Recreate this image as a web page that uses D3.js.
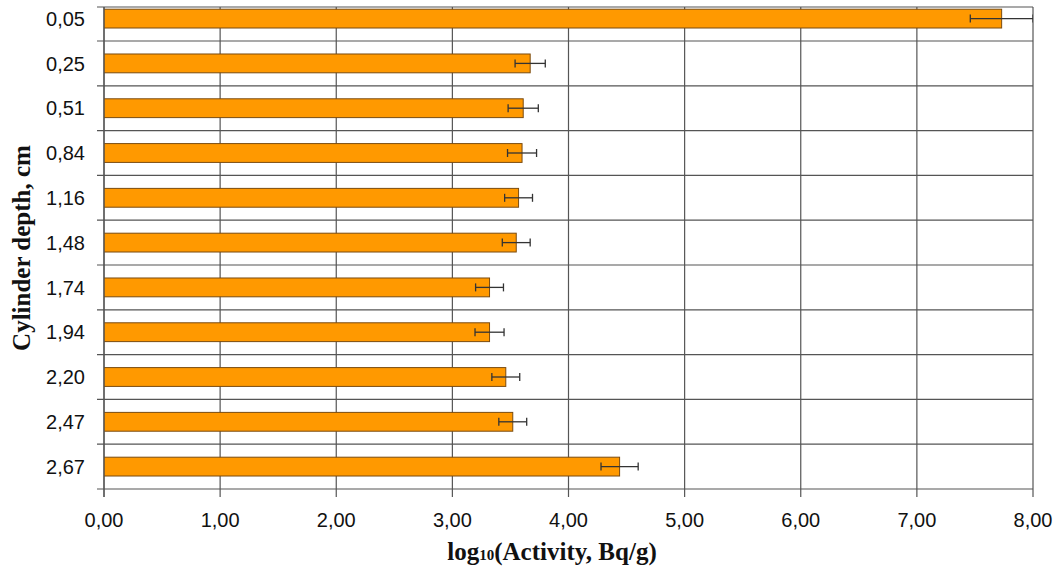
<!DOCTYPE html>
<html>
<head>
<meta charset="utf-8">
<script src="https://cdn.jsdelivr.net/npm/d3@7"></script>
<style>
  html, body { margin: 0; padding: 0; background: #fff; }
  svg { display: block; }
</style>
</head>
<body>
<svg id="chart" width="1061" height="570"></svg>
<script>
// Cylinder depth (cm), top to bottom
const depths = ["0,05", "0,25", "0,51", "0,84", "1,16", "1,48", "1,74", "1,94", "2,20", "2,47", "2,67"];
// log10 of activity (Bq/g) per depth
const logActivity = [7.73, 3.67, 3.61, 3.60, 3.57, 3.55, 3.32, 3.32, 3.46, 3.52, 4.44];
// symmetric uncertainty on log10 activity
const logError = [0.27, 0.13, 0.13, 0.125, 0.12, 0.12, 0.12, 0.125, 0.12, 0.12, 0.16];
// x axis ticks
const xTicks = [0, 1, 2, 3, 4, 5, 6, 7, 8];

(function () {
const svg = d3.select("#chart");
const plotLeft = 104, plotRight = 1033, plotTop = 7, plotBottom = 489;
const step = 44.8;

const x = d3.scaleLinear().domain([0, 8]).range([plotLeft, plotRight]);
const y = d3.scaleBand()
  .domain(depths)
  .range([plotBottom - step * depths.length, plotBottom])
  .paddingInner(0.58).paddingOuter(0.29);

const fmt = v => d3.format(".2f")(v).replace(".", ",");
const gridColor = "#555";

// vertical gridlines and x ticks
svg.append("g").selectAll("line").data(xTicks).join("line")
  .attr("x1", d => x(d)).attr("x2", d => x(d))
  .attr("y1", plotTop).attr("y2", plotBottom + 8)
  .attr("stroke", gridColor).attr("stroke-width", 1.2);

// horizontal lines at category boundaries, top border and baseline
const bounds = depths.slice(1).map(d => y(d) - y.step() * y.paddingInner() / 2);
bounds.push(plotBottom);
bounds.unshift(plotTop);
svg.append("g").selectAll("line").data(bounds).join("line")
  .attr("x1", plotLeft - 7).attr("x2", plotRight)
  .attr("y1", d => d).attr("y2", d => d)
  .attr("stroke", gridColor).attr("stroke-width", 1.2);

// plot clip
svg.append("clipPath").attr("id", "plot")
  .append("rect").attr("x", plotLeft).attr("y", plotTop)
  .attr("width", plotRight - plotLeft).attr("height", plotBottom - plotTop);

// bars
const g = svg.append("g").attr("clip-path", "url(#plot)");
g.selectAll("rect.bar").data(depths).join("rect")
  .attr("class", "bar")
  .attr("x", x(0))
  .attr("y", d => y(d))
  .attr("width", (d, i) => x(logActivity[i]) - x(0))
  .attr("height", y.bandwidth())
  .attr("fill", "#FF9900")
  .attr("stroke", "#7a4b10")
  .attr("stroke-width", 1);

// error bars
const eb = g.append("g").attr("stroke", "#333").attr("stroke-width", 1.3);
depths.forEach((d, i) => {
  const cy = y(d) + y.bandwidth() / 2;
  const lo = x(logActivity[i] - logError[i]);
  const hi = x(logActivity[i] + logError[i]);
  eb.append("line").attr("x1", lo).attr("x2", hi).attr("y1", cy).attr("y2", cy);
  eb.append("line").attr("x1", lo).attr("x2", lo).attr("y1", cy - 4).attr("y2", cy + 4);
  eb.append("line").attr("x1", hi).attr("x2", hi).attr("y1", cy - 4).attr("y2", cy + 4);
});

// left axis line
svg.append("line").attr("x1", plotLeft).attr("x2", plotLeft)
  .attr("y1", plotTop).attr("y2", plotBottom + 8)
  .attr("stroke", gridColor).attr("stroke-width", 1.2);

// category labels
svg.append("g").selectAll("text").data(depths).join("text")
  .attr("x", 85)
  .attr("y", d => y(d) + y.bandwidth() / 2)
  .attr("dy", "0.36em")
  .attr("text-anchor", "end")
  .attr("font-family", "Liberation Sans, Arial, sans-serif")
  .attr("font-size", 20)
  .attr("fill", "#111")
  .text(d => d);

// x tick labels
svg.append("g").selectAll("text").data(xTicks).join("text")
  .attr("x", d => x(d))
  .attr("y", 527)
  .attr("text-anchor", "middle")
  .attr("font-family", "Liberation Sans, Arial, sans-serif")
  .attr("font-size", 20)
  .attr("fill", "#111")
  .text(d => fmt(d));

// x axis title
const xt = svg.append("text")
  .attr("x", 552).attr("y", 560)
  .attr("text-anchor", "middle")
  .attr("font-family", "Liberation Serif, Times New Roman, serif")
  .attr("font-weight", "bold")
  .attr("font-size", 25)
  .attr("fill", "#111");
xt.append("tspan").text("log");
xt.append("tspan").attr("font-size", 15).text("10");
xt.append("tspan").text("(Activity, Bq/g)");

// y axis title
svg.append("text")
  .attr("transform", "translate(30,248) rotate(-90)")
  .attr("text-anchor", "middle")
  .attr("font-family", "Liberation Serif, Times New Roman, serif")
  .attr("font-weight", "bold")
  .attr("font-size", 25)
  .attr("fill", "#111")
  .text("Cylinder depth, cm");
})();
</script>
</body>
</html>
